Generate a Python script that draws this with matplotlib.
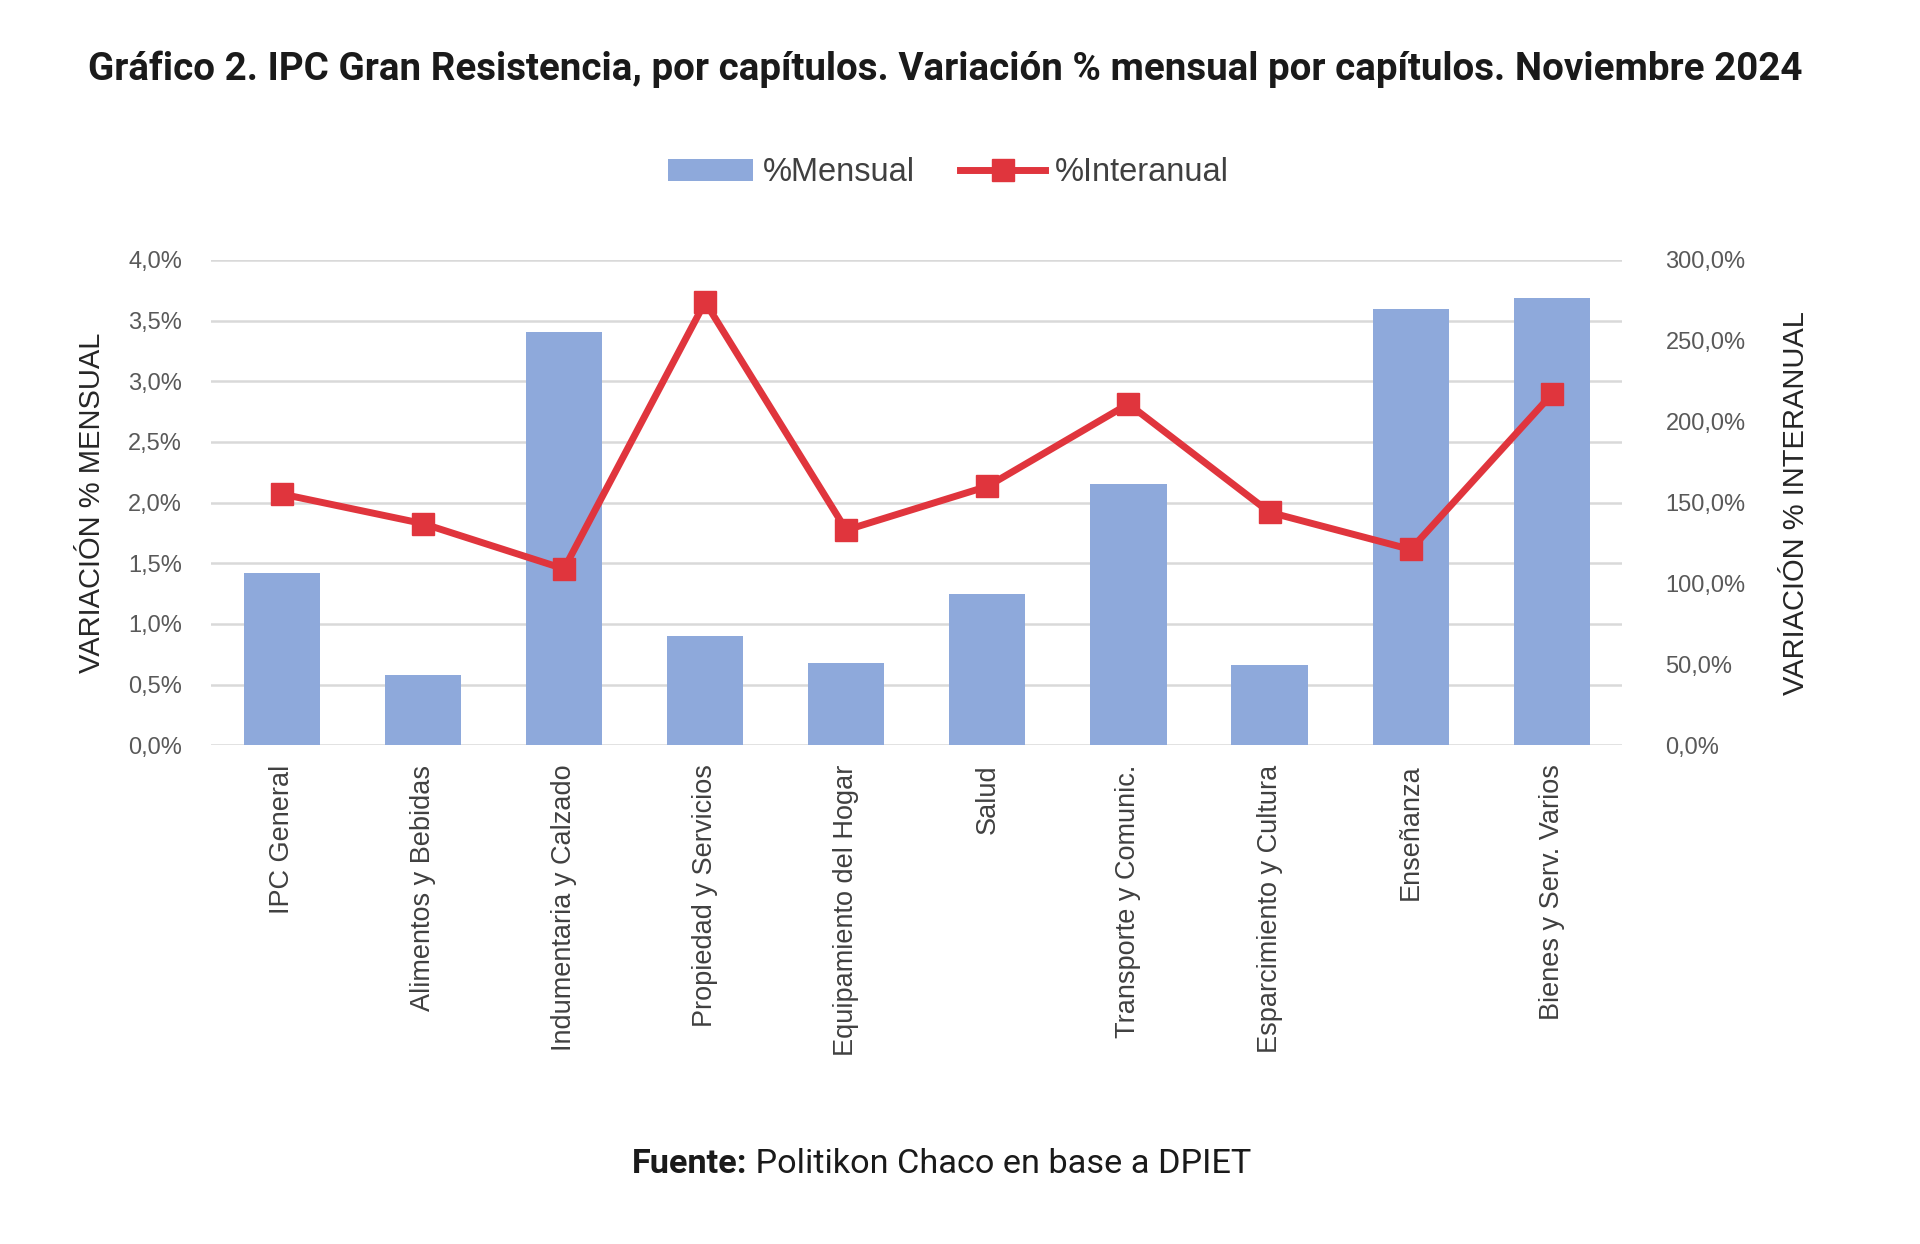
import matplotlib.pyplot as plt
import matplotlib.ticker as mticker
import numpy as np

categorias = ['IPC General', 'Alimentos y Bebidas', 'Indumentaria y Calzado',
              'Propiedad y Servicios', 'Equipamiento del Hogar', 'Salud',
              'Transporte y Comunic.', 'Esparcimiento y Cultura', 'Enseñanza',
              'Bienes y Serv. Varios']
mensual = [1.42, 0.58, 3.41, 0.90, 0.68, 1.25, 2.15, 0.66, 3.60, 3.69]
interanual = [155.3, 137.0, 109.0, 274.0, 133.0, 160.0, 211.0, 144.0, 121.0, 217.0]

titulo = 'Gráfico 2. IPC Gran Resistencia, por capítulos. Variación % mensual por capítulos. Noviembre 2024'

plt.rcParams['font.family'] = ['Liberation Sans', 'DejaVu Sans']

fig = plt.figure(figsize=(19.2, 12.44), dpi=100)
ax = fig.add_axes([0.110, 0.401, 0.735, 0.390])
ax2 = ax.twinx()

x = np.arange(len(categorias))
ax.bar(x, mensual, width=0.54, color='#8EA9DB', zorder=2, label='%Mensual')
ax.set_ylim(0, 4.0)
ax.set_xlim(-0.5, len(categorias) - 0.5)
ax.set_yticks(np.arange(0, 4.01, 0.5))
ax.yaxis.set_major_formatter(mticker.FuncFormatter(lambda v, p: f'{v:.1f}%'.replace('.', ',')))
ax.yaxis.grid(True, color='#D9D9D9', linewidth=1.8, zorder=0)
ax.set_axisbelow(True)

ax2.plot(x, interanual, color='#E0353D', linewidth=5, marker='s', markersize=16,
         zorder=3, label='%Interanual')
ax2.set_ylim(0, 300)
ax2.set_yticks(np.arange(0, 301, 50))
ax2.yaxis.set_major_formatter(mticker.FuncFormatter(lambda v, p: f'{v:.1f}%'.replace('.', ',')))

for a in (ax, ax2):
    for s in a.spines.values():
        s.set_visible(False)
    a.tick_params(length=0, labelsize=17, labelcolor='#595959')

ax.tick_params(axis='y', pad=21)
ax2.tick_params(axis='y', pad=31)
ax.set_xticks(x)
ax.set_xticklabels(categorias, rotation=90, fontsize=19.5, color='#404040', va='top')
ax.tick_params(axis='x', pad=14)

ax.set_ylabel('VARIACIÓN % MENSUAL', fontsize=21, color='#262626', labelpad=16)
ax2.set_ylabel('VARIACIÓN % INTERANUAL', fontsize=21, color='#262626', labelpad=26)

h1, l1 = ax.get_legend_handles_labels()
h2, l2 = ax2.get_legend_handles_labels()
fig.legend(h1 + h2, l1 + l2, loc='center', bbox_to_anchor=(0.494, 0.861), ncol=2,
           frameon=False, fontsize=23.5, labelcolor='#404040', handlelength=2.6,
           handletextpad=0.3, columnspacing=1.4)

fig.text(0.4925, 0.944, titulo, ha='center', va='center', fontsize=27.7,
         fontweight='bold', family='Roboto', color='#1a1a1a')

t1 = fig.text(0.329, 0.064, 'Fuente:', ha='left', va='center', fontsize=24.7,
              fontweight='bold', family='Roboto', color='#1a1a1a')
ax.annotate(' Politikon Chaco en base a DPIET', xy=(1, 0.5), xycoords=t1,
            ha='left', va='center', fontsize=24.7, family='Roboto', color='#1a1a1a',
            annotation_clip=False)

fig.savefig('out.png', dpi=100, facecolor='white')
